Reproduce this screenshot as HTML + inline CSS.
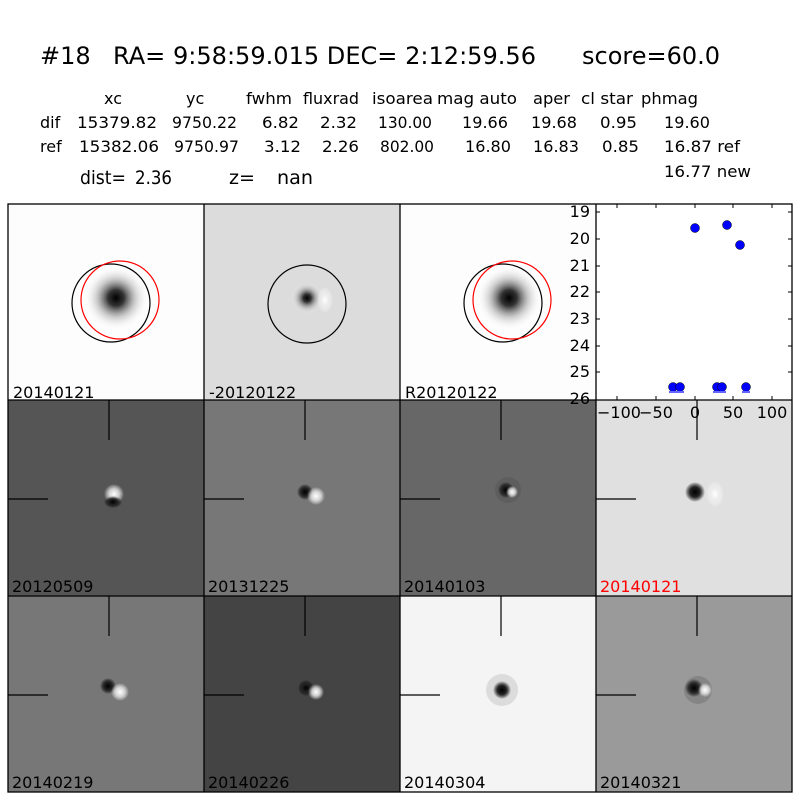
<!DOCTYPE html>
<html><head><meta charset="utf-8"><style>html,body{margin:0;padding:0;background:#fff}svg{display:block}</style></head>
<body>
<svg width="800" height="800" xmlns="http://www.w3.org/2000/svg" font-family="DejaVu Sans, Liberation Sans, sans-serif">
<defs>
<radialGradient id="st"><stop offset="0" stop-color="#000"/><stop offset="0.25" stop-color="#333"/><stop offset="0.6" stop-color="#999" stop-opacity="0.5"/><stop offset="1" stop-color="#fff" stop-opacity="0"/></radialGradient>
<radialGradient id="sm"><stop offset="0" stop-color="#000"/><stop offset="0.5" stop-color="#222"/><stop offset="1" stop-color="#000" stop-opacity="0"/></radialGradient>
<radialGradient id="wh"><stop offset="0" stop-color="#fff"/><stop offset="0.5" stop-color="#eee" stop-opacity="0.8"/><stop offset="1" stop-color="#fff" stop-opacity="0"/></radialGradient>
</defs>
<rect width="800" height="800" fill="#fff"/>
<g font-size="24" fill="#000">
<text x="40" y="64">#18</text>
<text x="113" y="64" textLength="423" lengthAdjust="spacingAndGlyphs">RA= 9:58:59.015 DEC= 2:12:59.56</text>
<text x="582" y="64" textLength="138" lengthAdjust="spacingAndGlyphs">score=60.0</text>
</g>
<g font-size="16" fill="#000">
<text x="104" y="104">xc</text><text x="186" y="104">yc</text><text x="246" y="104" textLength="46" lengthAdjust="spacingAndGlyphs">fwhm</text><text x="303" y="104" textLength="56" lengthAdjust="spacingAndGlyphs">fluxrad</text><text x="372" y="104" textLength="61" lengthAdjust="spacingAndGlyphs">isoarea</text><text x="437" y="104" textLength="80" lengthAdjust="spacingAndGlyphs">mag auto</text><text x="533" y="104" textLength="37" lengthAdjust="spacingAndGlyphs">aper</text><text x="581" y="104" textLength="52" lengthAdjust="spacingAndGlyphs">cl star</text><text x="641" y="104" textLength="57" lengthAdjust="spacingAndGlyphs">phmag</text>
<text x="40" y="128">dif</text><text x="77" y="128" textLength="80" lengthAdjust="spacingAndGlyphs">15379.82</text><text x="172" y="128" textLength="65" lengthAdjust="spacingAndGlyphs">9750.22</text><text x="262" y="128" textLength="37" lengthAdjust="spacingAndGlyphs">6.82</text><text x="320" y="128" textLength="37" lengthAdjust="spacingAndGlyphs">2.32</text><text x="378" y="128" textLength="54" lengthAdjust="spacingAndGlyphs">130.00</text><text x="462" y="128" textLength="46" lengthAdjust="spacingAndGlyphs">19.66</text><text x="531" y="128" textLength="46" lengthAdjust="spacingAndGlyphs">19.68</text><text x="600" y="128" textLength="37" lengthAdjust="spacingAndGlyphs">0.95</text><text x="664" y="128" textLength="46" lengthAdjust="spacingAndGlyphs">19.60</text>
<text x="40" y="152">ref</text><text x="79" y="152" textLength="80" lengthAdjust="spacingAndGlyphs">15382.06</text><text x="174" y="152" textLength="65" lengthAdjust="spacingAndGlyphs">9750.97</text><text x="264" y="152" textLength="37" lengthAdjust="spacingAndGlyphs">3.12</text><text x="322" y="152" textLength="37" lengthAdjust="spacingAndGlyphs">2.26</text><text x="380" y="152" textLength="54" lengthAdjust="spacingAndGlyphs">802.00</text><text x="465" y="152" textLength="46" lengthAdjust="spacingAndGlyphs">16.80</text><text x="533" y="152" textLength="46" lengthAdjust="spacingAndGlyphs">16.83</text><text x="602" y="152" textLength="37" lengthAdjust="spacingAndGlyphs">0.85</text><text x="664" y="152" textLength="76" lengthAdjust="spacingAndGlyphs">16.87 ref</text>
<text x="664" y="177" textLength="87" lengthAdjust="spacingAndGlyphs">16.77 new</text>
</g>
<g font-size="19" fill="#000">
<text x="80" y="184" textLength="46" lengthAdjust="spacingAndGlyphs">dist=</text><text x="135" y="184" textLength="37" lengthAdjust="spacingAndGlyphs">2.36</text>
<text x="229" y="184" textLength="26" lengthAdjust="spacingAndGlyphs">z=</text><text x="277" y="184" textLength="36" lengthAdjust="spacingAndGlyphs">nan</text>
</g>

<rect x="8" y="204" width="196" height="196" fill="#fdfdfd"/>
<rect x="204" y="204" width="196" height="196" fill="#dcdcdc"/>
<rect x="400" y="204" width="196" height="196" fill="#fdfdfd"/>
<rect x="596" y="204" width="196" height="196" fill="#fff"/>
<rect x="8" y="400" width="196" height="196" fill="#555"/>
<rect x="204" y="400" width="196" height="196" fill="#777"/>
<rect x="400" y="400" width="196" height="196" fill="#676767"/>
<rect x="596" y="400" width="196" height="196" fill="#e0e0e0"/>
<rect x="8" y="596" width="196" height="196" fill="#777"/>
<rect x="204" y="596" width="196" height="196" fill="#444"/>
<rect x="400" y="596" width="196" height="196" fill="#f4f4f4"/>
<rect x="596" y="596" width="196" height="196" fill="#9a9a9a"/>

<circle cx="116" cy="298" r="32" fill="url(#st)"/>
<circle cx="307" cy="298" r="16" fill="url(#st)"/>
<ellipse cx="325" cy="300" rx="8" ry="13" fill="url(#wh)"/>
<circle cx="509" cy="298" r="32" fill="url(#st)"/>
<circle cx="111" cy="303" r="39" fill="none" stroke="#000" stroke-width="1.2"/>
<circle cx="120" cy="300" r="39" fill="none" stroke="red" stroke-width="1.2"/>
<circle cx="307" cy="304" r="39" fill="none" stroke="#000" stroke-width="1.2"/>
<circle cx="503" cy="303" r="39" fill="none" stroke="#000" stroke-width="1.2"/>
<circle cx="512" cy="300" r="39" fill="none" stroke="red" stroke-width="1.2"/>

<g>
<circle cx="114" cy="494" r="10" fill="url(#wh)"/><ellipse cx="113" cy="502" rx="9" ry="6" fill="url(#sm)"/>
<circle cx="305" cy="492" r="8" fill="url(#sm)"/><circle cx="316" cy="496" r="9" fill="url(#wh)"/>
<circle cx="508" cy="490" r="13" fill="#555" opacity="0.5"/><circle cx="506" cy="490" r="8" fill="url(#sm)"/><circle cx="512" cy="492" r="6" fill="url(#wh)"/>
<circle cx="695" cy="492" r="10" fill="url(#sm)"/><ellipse cx="715" cy="494" rx="9" ry="13" fill="url(#wh)"/>
<circle cx="108" cy="686" r="8" fill="url(#sm)"/><circle cx="120" cy="692" r="9" fill="url(#wh)"/>
<circle cx="306" cy="688" r="8" fill="url(#sm)"/><circle cx="316" cy="692" r="8" fill="url(#wh)"/>
<circle cx="502" cy="690" r="16" fill="#ccc" opacity="0.6"/><circle cx="502" cy="690" r="9" fill="url(#sm)"/>
<circle cx="698" cy="690" r="14" fill="#666" opacity="0.4"/><circle cx="694" cy="688" r="9" fill="url(#sm)"/><circle cx="705" cy="690" r="7" fill="url(#wh)"/>
</g>

<g stroke="#000" stroke-width="1.2">
<line x1="109" y1="400" x2="109" y2="440"/><line x1="8" y1="499" x2="48" y2="499"/>
<line x1="305" y1="400" x2="305" y2="440"/><line x1="204" y1="499" x2="244" y2="499"/>
<line x1="501" y1="400" x2="501" y2="440"/><line x1="400" y1="499" x2="440" y2="499"/>
<line x1="697" y1="400" x2="697" y2="440"/><line x1="596" y1="499" x2="636" y2="499"/>
<line x1="109" y1="596" x2="109" y2="636"/><line x1="8" y1="695" x2="48" y2="695"/>
<line x1="305" y1="596" x2="305" y2="636"/><line x1="204" y1="695" x2="244" y2="695"/>
<line x1="501" y1="596" x2="501" y2="636"/><line x1="400" y1="695" x2="440" y2="695"/>
<line x1="697" y1="596" x2="697" y2="636"/><line x1="596" y1="695" x2="636" y2="695"/>
</g>

<g font-size="16" fill="#000">
<text x="13" y="398">20140121</text><text x="209" y="398">-20120122</text><text x="405" y="398">R20120122</text>
<text x="12" y="592">20120509</text><text x="208" y="592">20131225</text><text x="404" y="592">20140103</text><text x="600" y="592" fill="red">20140121</text>
<text x="12" y="788">20140219</text><text x="208" y="788">20140226</text><text x="404" y="788">20140304</text><text x="600" y="788">20140321</text>
</g>

<g stroke="#000" stroke-width="1">
<line x1="617" y1="204" x2="617" y2="208"/><line x1="656" y1="204" x2="656" y2="208"/><line x1="695" y1="204" x2="695" y2="208"/><line x1="733" y1="204" x2="733" y2="208"/><line x1="772" y1="204" x2="772" y2="208"/>
<line x1="617" y1="400" x2="617" y2="396"/><line x1="656" y1="400" x2="656" y2="396"/><line x1="695" y1="400" x2="695" y2="396"/><line x1="733" y1="400" x2="733" y2="396"/><line x1="772" y1="400" x2="772" y2="396"/>
<line x1="596" y1="212" x2="600" y2="212"/><line x1="596" y1="239" x2="600" y2="239"/><line x1="596" y1="266" x2="600" y2="266"/><line x1="596" y1="292" x2="600" y2="292"/><line x1="596" y1="319" x2="600" y2="319"/><line x1="596" y1="346" x2="600" y2="346"/><line x1="596" y1="372" x2="600" y2="372"/>
<line x1="792" y1="212" x2="788" y2="212"/><line x1="792" y1="239" x2="788" y2="239"/><line x1="792" y1="266" x2="788" y2="266"/><line x1="792" y1="292" x2="788" y2="292"/><line x1="792" y1="319" x2="788" y2="319"/><line x1="792" y1="346" x2="788" y2="346"/><line x1="792" y1="372" x2="788" y2="372"/>
</g>
<g fill="#00f" stroke="#000" stroke-width="0.5">
<circle cx="695" cy="228" r="4.5"/><circle cx="727" cy="225" r="4.5"/><circle cx="740" cy="245" r="4.5"/>
<circle cx="673" cy="387" r="4.5"/><circle cx="680" cy="387" r="4.5"/><circle cx="717" cy="387" r="4.5"/><circle cx="722" cy="387" r="4.5"/><circle cx="746" cy="387" r="4.5"/>
</g>
<g stroke="#66f" stroke-width="2"><line x1="669" y1="392" x2="684" y2="392"/><line x1="713" y1="392" x2="726" y2="392"/><line x1="742" y1="392" x2="750" y2="392"/></g>
<g font-size="16" fill="#000" text-anchor="end">
<text x="590" y="217">19</text><text x="590" y="244">20</text><text x="590" y="271">21</text><text x="590" y="297">22</text><text x="590" y="324">23</text><text x="590" y="351">24</text><text x="590" y="377">25</text><text x="590" y="404">26</text>
</g>
<g font-size="16" fill="#000" text-anchor="middle">
<text x="619" y="418">−100</text><text x="656" y="418">−50</text><text x="695" y="418">0</text><text x="733" y="418">50</text><text x="772" y="418">100</text>
</g>

<g fill="none" stroke="#000" stroke-width="1.3">
<rect x="8" y="204" width="784" height="588"/>
<line x1="204" y1="204" x2="204" y2="792"/><line x1="400" y1="204" x2="400" y2="792"/><line x1="596" y1="204" x2="596" y2="792"/>
<line x1="8" y1="400" x2="792" y2="400"/><line x1="8" y1="596" x2="792" y2="596"/>
</g>
</svg>
</body></html>
